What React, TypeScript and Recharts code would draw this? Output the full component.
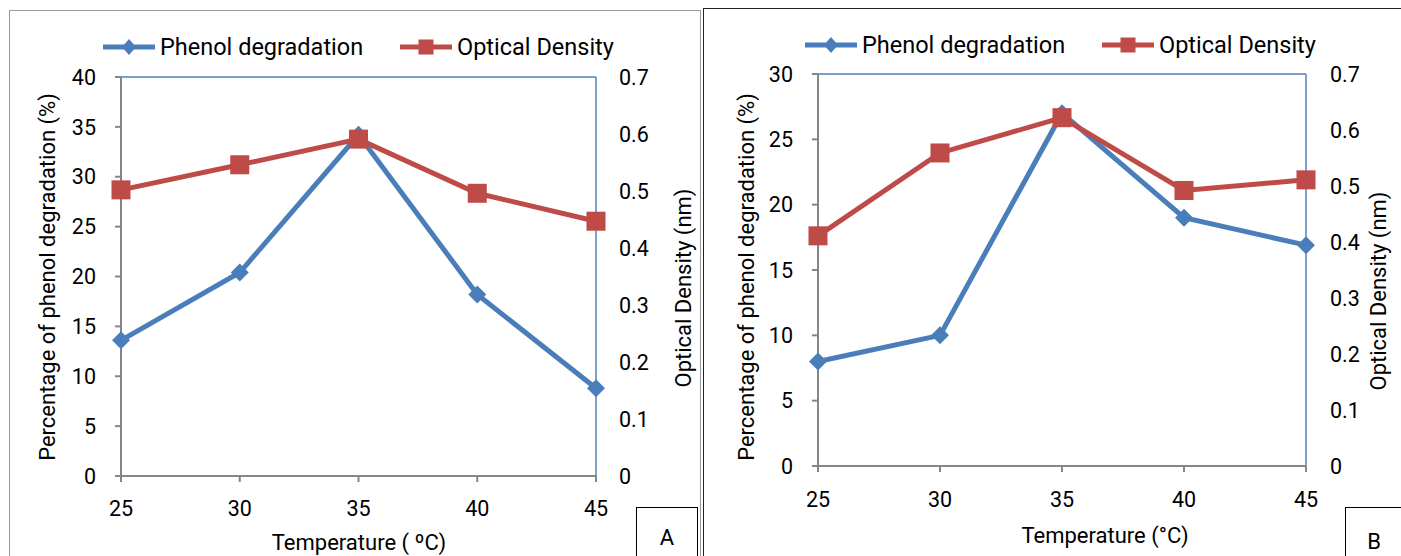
import React from 'react'
import { LineChart, Line, XAxis, YAxis, Legend, ReferenceLine } from 'recharts'

// temperature (°C) on the x axis, shared by both panels
const temperatures = [25, 30, 35, 40, 45]

// panel A
const phenolA = [13.6, 20.4, 34.2, 18.2, 8.8]
const densityA = [0.502, 0.546, 0.591, 0.496, 0.447]

// panel B
const phenolB = [8.0, 10.0, 27.0, 19.0, 16.9]
const densityB = [0.411, 0.559, 0.622, 0.492, 0.511]

const xTicks = [25, 30, 35, 40, 45]
const leftTicksA = [0, 5, 10, 15, 20, 25, 30, 35, 40]
const leftTicksB = [0, 5, 10, 15, 20, 25, 30]
const rightTicks = [0, 0.1, 0.2, 0.3, 0.4, 0.5, 0.6, 0.7]

const seriesNames = ['Phenol degradation', 'Optical Density']

const BLUE = '#4A7EBB'
const RED = '#BE4B48'
const AXIS_GRAY = '#868686'
const FRAME_BLUE = '#4F81BD'
const FONT = 'Roboto, "Open Sans", sans-serif'

function Diamond({ cx, cy, r }: { cx: number; cy: number; r: number }) {
  return <polygon points={`${cx},${cy - r} ${cx + r},${cy} ${cx},${cy + r} ${cx - r},${cy}`} fill={BLUE} />
}

function Square({ cx, cy, r }: { cx: number; cy: number; r: number }) {
  return <rect x={cx - r} y={cy - r} width={r * 2} height={r * 2} fill={RED} />
}

function AxisTitle({ px, py, text, rot = 0 }: { px: number; py: number; text: string; rot?: number }) {
  return (
    <text x={px} y={py} transform={rot ? `rotate(${rot} ${px} ${py})` : undefined}
      textAnchor="middle" dominantBaseline="central" fontSize={22} fontFamily={FONT} fill="#000">
      {text}
    </text>
  )
}

function LegendBox({ payload }: any) {
  const items = [...(payload ?? [])].sort(
    (a: any, b: any) => seriesNames.indexOf(a.value) - seriesNames.indexOf(b.value))
  return (
    <div style={{ position: 'relative', height: 24, fontFamily: FONT, fontSize: 23.5, color: '#000' }}>
      {items.map((item: any, i: number) => (
        <div key={item.value} style={{ position: 'absolute', left: i * 297, top: 0, display: 'flex', alignItems: 'center', height: 24, whiteSpace: 'nowrap' }}>
          <svg width={52} height={24}>
            <line x1={0} y1={12} x2={52} y2={12} stroke={item.color} strokeWidth={5} strokeLinecap="round" />
            {item.value === seriesNames[0]
              ? <polygon points="26,4 33,12 26,20 19,12" fill={BLUE} />
              : <rect x={18.5} y={4.5} width={15} height={15} fill={RED} />}
          </svg>
          <span style={{ marginLeft: 5 }}>{item.value}</span>
        </div>
      ))}
    </div>
  )
}

interface PanelProps {
  width: number
  margin: { top: number; right: number; bottom: number; left: number }
  phenol: number[]
  density: number[]
  leftTicks: number[]
  xTitle: string
  xTitlePos: [number, number]
  leftTitlePos: [number, number]
  rightTitlePos: [number, number]
  legendPos: [number, number]
  xTickMargin: number
  rightTickMargin: number
}

function Panel(p: PanelProps) {
  const data = temperatures.map((t, i) => ({ T: t, phenol: p.phenol[i], od: p.density[i] }))
  const leftMax = p.leftTicks[p.leftTicks.length - 1]
  const tick = { fill: '#000', fontSize: 21.5, fontFamily: FONT }
  return (
    <LineChart width={p.width} height={556} data={data} margin={p.margin}>
      <XAxis dataKey="T" type="number" domain={[25, 45]} ticks={xTicks} interval={0} height={40}
        axisLine={{ stroke: AXIS_GRAY, strokeWidth: 2 }} tickLine={{ stroke: AXIS_GRAY, strokeWidth: 2 }}
        tickSize={6} tickMargin={p.xTickMargin} tick={tick}
        label={<AxisTitle px={p.xTitlePos[0]} py={p.xTitlePos[1]} text={p.xTitle} />} />
      <YAxis yAxisId="left" domain={[0, leftMax]} ticks={p.leftTicks} interval={0} width={60}
        axisLine={{ stroke: AXIS_GRAY, strokeWidth: 2 }} tickLine={{ stroke: AXIS_GRAY, strokeWidth: 2 }}
        tickSize={6} tickMargin={19} tick={tick}
        label={<AxisTitle px={p.leftTitlePos[0]} py={p.leftTitlePos[1]} rot={-90} text="Percentage of phenol degradation (%)" />} />
      <YAxis yAxisId="right" orientation="right" domain={[0, 0.7]} ticks={rightTicks} interval={0} width={60}
        axisLine={{ stroke: FRAME_BLUE, strokeWidth: 1.5 }} tickLine={false}
        tickSize={6} tickMargin={p.rightTickMargin} tick={tick}
        tickFormatter={(v: number) => String(Number(v.toFixed(1)))}
        label={<AxisTitle px={p.rightTitlePos[0]} py={p.rightTitlePos[1]} rot={-90} text="Optical Density (nm)" />} />
      <ReferenceLine yAxisId="left" y={leftMax} stroke={FRAME_BLUE} strokeWidth={1.5} />
      <Legend verticalAlign="middle" layout="horizontal" content={<LegendBox />}
        wrapperStyle={{ left: p.legendPos[0], top: p.legendPos[1], width: 580, height: 24 }} />
      <Line yAxisId="left" dataKey="phenol" name={seriesNames[0]} stroke={BLUE} strokeWidth={5}
        isAnimationActive={false}
        dot={(d: any) => <Diamond key={`d${d.index}`} cx={d.cx} cy={d.cy} r={9} />} activeDot={false} />
      <Line yAxisId="right" dataKey="od" name={seriesNames[1]} stroke={RED} strokeWidth={5}
        isAnimationActive={false}
        dot={(d: any) => <Square key={`s${d.index}`} cx={d.cx} cy={d.cy} r={9.5} />} activeDot={false} />
    </LineChart>
  )
}

export default function App() {
  return (
    <div style={{ position: 'absolute', left: 0, top: 0, width: 1401, height: 556, overflow: 'hidden', background: '#fff', fontFamily: FONT }}>
      <div style={{ position: 'absolute', left: 9, top: 10, width: 690, height: 600, border: '1.5px solid #9a9a9a' }} />
      <div style={{ position: 'absolute', left: 703, top: 8, width: 760, height: 600, border: '1.5px solid #222' }} />

      <div style={{ position: 'absolute', left: 0, top: 0 }}>
        <Panel width={700} margin={{ top: 77, right: 44, bottom: 40, left: 61 }}
          phenol={phenolA} density={densityA} leftTicks={leftTicksA}
          xTitle="Temperature ( ºC)" xTitlePos={[359, 542]} leftTitlePos={[47, 277]} rightTitlePos={[683, 288]}
          legendPos={[103, 35]} xTickMargin={19} rightTickMargin={17} />
      </div>
      <div style={{ position: 'absolute', left: 700, top: 0 }}>
        <Panel width={701} margin={{ top: 74, right: 35, bottom: 50, left: 58 }}
          phenol={phenolB} density={densityB} leftTicks={leftTicksB}
          xTitle="Temperature (°C)" xTitlePos={[405, 535]} leftTitlePos={[46, 277]} rightTitlePos={[678, 291]}
          legendPos={[105, 33]} xTickMargin={20} rightTickMargin={18} />
      </div>

      <div style={{ position: 'absolute', left: 636, top: 507, width: 62, height: 60, border: '1.5px solid #000', boxSizing: 'border-box' }}>
        <div style={{ position: 'absolute', left: 0, right: 0, top: 17, textAlign: 'center', fontSize: 22 }}>A</div>
      </div>
      <div style={{ position: 'absolute', left: 1345, top: 507, width: 80, height: 60, border: '1.5px solid #000', boxSizing: 'border-box' }}>
        <div style={{ position: 'absolute', left: 0, width: 56, top: 21, textAlign: 'center', fontSize: 22 }}>B</div>
      </div>
    </div>
  )
}
